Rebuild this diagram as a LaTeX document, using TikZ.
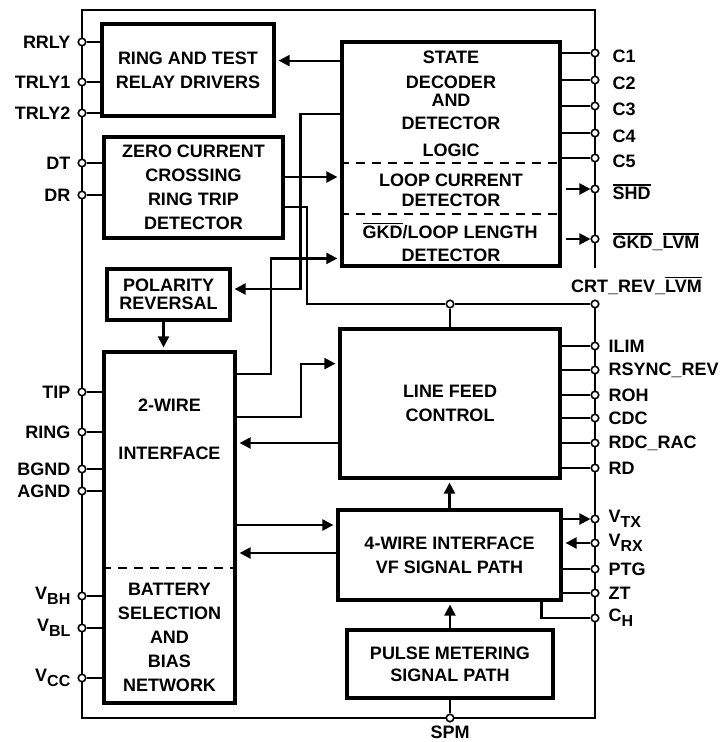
\documentclass[tikz,border=0pt]{standalone}
\usepackage{fontspec}
\setmainfont{Liberation Sans}
\usetikzlibrary{arrows.meta}

\newcommand{\lowsub}[1]{\raisebox{-5pt}{\fontsize{16}{16}\selectfont #1}}
\newcommand{\negsig}[1]{\leavevmode\vbox{\hrule height 1.4pt\kern 1.6pt\hbox{#1}}}

\begin{document}
\begin{tikzpicture}[x=1pt, y=-1pt, line width=2.2pt,
  >={Triangle[length=11pt, width=11pt]},
  into/.style={->, shorten >=2.2pt},
  block/.style={draw, line width=4.8pt, fill=white, align=center, inner sep=0pt,
    font=\bfseries\fontsize{18}{24}\selectfont},
  txt/.style={font=\bfseries\fontsize{18}{24}\selectfont, inner sep=0pt},
  port/.style={draw, shape=circle, fill=white, inner sep=0pt, minimum size=7.5pt, line width=1.6pt},
  every label/.style={font=\bfseries\fontsize{18}{20}\selectfont, inner sep=0pt},
  lport/.style={port, label={[label distance=6pt]left:#1}},
  rport/.style={port, label={[label distance=8pt]right:#1}},
  cport/.style={port, label={[label distance=12pt, yshift=-3pt]right:#1}},
  dashline/.style={dash pattern=on 9pt off 7pt}]

  \useasboundingbox (0,0) rectangle (722,742);

  % chip outline
  \path[draw] (595,268) |- (82,10) |- (595,718) -- (595,304);

  % blocks
  \node[block, minimum width=172pt, minimum height=92pt] (relay) at (188,70) {RING AND TEST\\RELAY DRIVERS};
  \node[block, minimum width=179pt, minimum height=101pt] (zcd) at (193.5,187.5) {ZERO CURRENT\\CROSSING\\RING TRIP\\DETECTOR};
  \node[block, minimum width=218pt, minimum height=224pt] (state) at (451,154) {};
  \node[block, minimum width=123pt, minimum height=51pt, font=\bfseries\fontsize{18}{18}\selectfont] (pol) at (168.5,294.5) {POLARITY\\REVERSAL};
  \node[block, minimum width=131pt, minimum height=351pt] (twowire) at (169.5,527.5) {};
  \node[block, minimum width=220pt, minimum height=149pt] (feed) at (450,403.5) {LINE FEED\\CONTROL};
  \node[block, minimum width=223pt, minimum height=90pt] (four) at (449.5,555) {4-WIRE INTERFACE\\VF SIGNAL PATH};
  \node[block, minimum width=206pt, minimum height=68pt, font=\bfseries\fontsize{18}{22}\selectfont] (pulse) at (450,664) {PULSE METERING\\SIGNAL PATH};

  % state decoder texts
  \node[txt, anchor=base] (st1) at (451,63.5) {STATE};
  \node[txt, anchor=base] (st2) at (451,88.5) {DECODER};
  \node[txt, anchor=base] (st3) at (451,106.5) {AND};
  \node[txt, anchor=base] (st4) at (451,129.5) {DETECTOR};
  \node[txt, anchor=base] (st5) at (451,156.5) {LOGIC};
  \node[txt, anchor=base] (st6) at (451,186.5) {LOOP CURRENT};
  \node[txt, anchor=base] (st7) at (451,206.5) {DETECTOR};
  \node[txt, anchor=base] (st8) at (450,238.5) {\negsig{GKD}/LOOP LENGTH};
  \node[txt, anchor=base] (st9) at (451,261) {DETECTOR};
  \path[draw, dashline] ([yshift=-123pt]state.north west) -- ([yshift=-123pt]state.north east);
  \path[draw, dashline] ([yshift=-174pt]state.north west) -- ([yshift=-174pt]state.north east);

  % 2-wire texts
  \node[txt, anchor=base] (tw1) at (169.5,411.5) {2-WIRE};
  \node[txt, anchor=base] (tw2) at (169.5,459.5) {INTERFACE};
  \node[txt, align=center] (tw3) at (169.5,637) {BATTERY\\SELECTION\\AND\\BIAS\\NETWORK};
  \path[draw, dashline] ([yshift=-218pt]twowire.north west) -- ([yshift=-218pt]twowire.north east);

  % left pins
  \node[lport=RRLY] (rrly) at (82,42) {};
  \node[lport=TRLY1] (trly1) at (82,82) {};
  \node[lport=TRLY2] (trly2) at (82,113) {};
  \node[lport=DT] (dt) at (82,163) {};
  \node[lport=DR] (dr) at (82,195) {};
  \node[lport=TIP] (tip) at (82,392) {};
  \node[lport=RING] (ring) at (82,432) {};
  \node[lport=BGND] (bgnd) at (82,469) {};
  \node[lport=AGND] (agnd) at (82,491) {};
  \node[lport={V\lowsub{BH}}] (vbh) at (82,596) {};
  \node[lport={V\lowsub{BL}}] (vbl) at (82,628) {};
  \node[lport={V\lowsub{CC}}] (vcc) at (82,678) {};

  % right pins
  \node[cport=C1] (c1) at (595,53) {};
  \node[cport=C2] (c2) at (595,80) {};
  \node[cport=C3] (c3) at (595,106) {};
  \node[cport=C4] (c4) at (595,133) {};
  \node[cport=C5] (c5) at (595,158) {};
  \node[cport={\negsig{SHD}}] (shd) at (595,189) {};
  \node[cport={\negsig{GKD}\_\negsig{LVM}}] (gkd) at (595,239) {};
  \node[port] (crt) at (595,304) {};
  \node[txt, anchor=base west] (crtlab) at (570,292) {CRT\_REV\_\negsig{LVM}};
  \node[port] (crtj) at (450,304) {};
  \node[rport=ILIM] (ilim) at (595,346) {};
  \node[rport=RSYNC\_REV] (rsync) at (595,370) {};
  \node[rport=ROH] (roh) at (595,395) {};
  \node[rport=CDC] (cdc) at (595,418) {};
  \node[rport=RDC\_RAC] (rdc) at (595,443) {};
  \node[rport=RD] (rd) at (595,468) {};
  \node[rport={V\lowsub{TX}}] (vtx) at (595,519) {};
  \node[rport={V\lowsub{RX}}] (vrx) at (595,543) {};
  \node[rport=PTG] (ptg) at (595,569) {};
  \node[rport=ZT] (zt) at (595,593) {};
  \node[rport={C\lowsub{H}}] (ch) at (595,618) {};
  \node[port, label={[label distance=2pt]below:SPM}] (spm) at (450,718) {};

  % pin wiring, left side
  \path[draw] (rrly) -- (rrly -| relay.west);
  \path[draw] (trly1) -- (trly1 -| relay.west);
  \path[draw] (trly2) -- (trly2 -| relay.west);
  \path[draw] (dt) -- (dt -| zcd.west);
  \path[draw] (dr) -- (dr -| zcd.west);
  \path[draw] (tip) -- (tip -| twowire.west);
  \path[draw] (ring) -- (ring -| twowire.west);
  \path[draw] (bgnd) -- (bgnd -| twowire.west);
  \path[draw] (agnd) -- (agnd -| twowire.west);
  \path[draw] (vbh) -- (vbh -| twowire.west);
  \path[draw] (vbl) -- (vbl -| twowire.west);
  \path[draw] (vcc) -- (vcc -| twowire.west);

  % pin wiring, right side
  \path[draw] (c1 -| state.east) -- (c1);
  \path[draw] (c2 -| state.east) -- (c2);
  \path[draw] (c3 -| state.east) -- (c3);
  \path[draw] (c4 -| state.east) -- (c4);
  \path[draw] (c5 -| state.east) -- (c5);
  \path[draw, ->, shorten <=4pt] (shd -| state.east) -- (shd);
  \path[draw, ->, shorten <=4pt] (gkd -| state.east) -- (gkd);
  \path[draw] (ilim -| feed.east) -- (ilim);
  \path[draw] (rsync -| feed.east) -- (rsync);
  \path[draw] (roh -| feed.east) -- (roh);
  \path[draw] (cdc -| feed.east) -- (cdc);
  \path[draw] (rdc -| feed.east) -- (rdc);
  \path[draw] (rd -| feed.east) -- (rd);
  \path[draw, ->] (vtx -| four.east) -- (vtx);
  \path[draw, into] (vrx) -- (vrx -| four.east);
  \path[draw] (ptg -| four.east) -- (ptg);
  \path[draw] (zt -| four.east) -- (zt);
  \coordinate (chout) at ([xshift=-22pt]four.south east);
  \path[draw] (chout) |- (ch);
  \path[draw] (crtj) -- (crt);
  \path[draw] (crtj) -- (feed.north);
  \path[draw] (pulse.south) -- (spm);

  % block to block
  \coordinate (relayin) at ([yshift=-21pt]state.north west);
  \path[draw, into] (relayin) -- (relayin -| relay.east);

  \coordinate (polout) at ([yshift=-74pt]state.north west);
  \coordinate (polin) at ([yshift=5.5pt]pol.east);
  \path[draw, into] (polout) -| ([xshift=68pt]polin) -- (polin);

  \coordinate (zcdout) at ([yshift=10.5pt]zcd.east);
  \path[draw, into] (zcdout) -- (zcdout -| state.west);

  \coordinate (zcdrev) at ([yshift=-19.5pt]zcd.east);
  \path[draw, line width=1.5pt] (zcdrev) -| ([xshift=-143pt]crtj.center) -- (crtj);

  \coordinate (gkdout) at ([yshift=-24pt]twowire.north east);
  \coordinate (gkdin) at ([yshift=10pt]state.south west);
  \path[draw, into] (gkdout) -| ([xshift=-69pt]gkdin) -- (gkdin);

  \coordinate (feedout) at ([yshift=-67pt]twowire.north east);
  \coordinate (feedin) at ([yshift=-37pt]feed.north west);
  \path[draw, into] (feedout) -| ([xshift=-37pt]feedin) -- (feedin);

  \coordinate (feedret) at ([yshift=-39.5pt]feed.west);
  \path[draw, into] (feedret) -- (feedret -| twowire.east);

  \coordinate (fourin) at ([yshift=30pt]four.west);
  \path[draw, into] (fourin -| twowire.east) -- (fourin);

  \coordinate (fourret) at ([yshift=2pt]four.west);
  \path[draw, into] (fourret) -- (fourret -| twowire.east);

  \coordinate (poldown) at ([xshift=-5pt]pol.south);
  \path[draw, into] (poldown) -- (poldown |- twowire.north);

  \path[draw, into] (four.north) -- (four.north |- feed.south);
  \path[draw, into] (pulse.north) -- (pulse.north |- four.south);

\end{tikzpicture}
\end{document}
